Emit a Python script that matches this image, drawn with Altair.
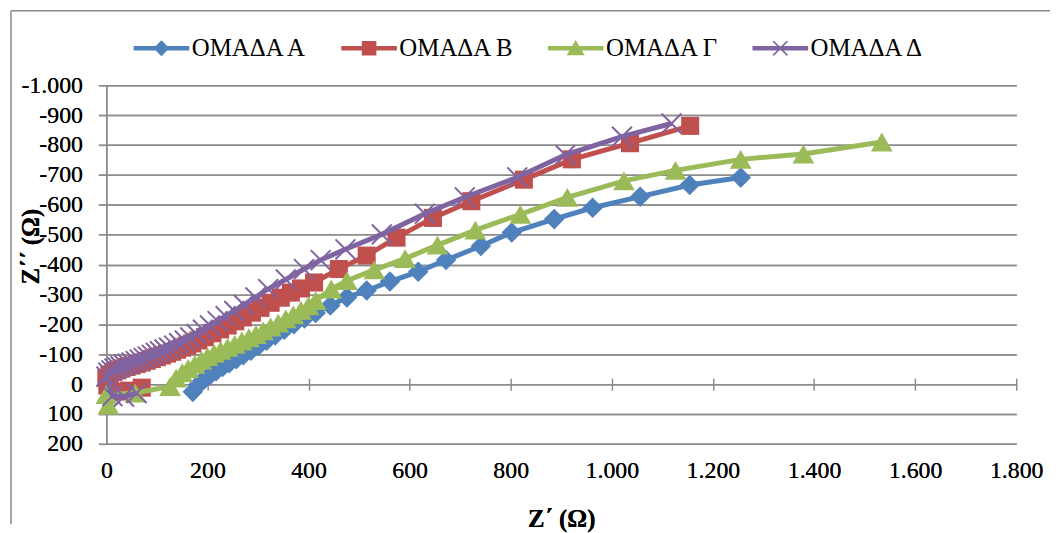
import altair as alt
import pandas as pd

FONT = "'Times New Roman', 'Liberation Serif', 'DejaVu Serif', serif"

series_names = ["ΟΜΑΔΑ Α", "ΟΜΑΔΑ Β", "ΟΜΑΔΑ Γ", "ΟΜΑΔΑ Δ"]
colors = ["#4F81BD", "#C0504D", "#9BBB59", "#8064A2"]

a_x = [171, 182, 193, 205, 217, 230, 243, 257, 271, 286, 301, 317, 334, 352, 371, 392, 414,
       443, 476, 515, 561, 617, 672, 741, 802, 886, 962, 1056, 1154, 1255]
a_y = [26, 2, -15, -30, -43, -57, -70, -83, -97, -112, -128, -145, -163, -182, -200, -220, -238,
       -263, -290, -313, -343, -376, -415, -462, -507, -552, -590, -627, -666, -691]

b_x = [70, 45, 20, 2, 0, 6, 14, 22, 30, 40, 50, 60, 70, 80, 90, 100, 110, 120, 130, 140, 150,
       160, 170, 182, 195, 210, 225, 240, 255, 270, 288, 305, 325, 345, 365, 385, 411, 460, 515,
       574, 646, 722, 826, 921, 1036, 1155]
b_y = [12, 22, 25, 5, -20, -32, -40, -46, -52, -57, -62, -67, -72, -78, -84, -90, -96, -102,
       -108, -115, -122, -129, -136, -146, -157, -170, -183, -196, -210, -223, -239, -255, -272,
       -289, -306, -320, -340, -385, -430, -490, -556, -612, -684, -752, -806, -864]

g_x = [4, 0, 57, 126, 138, 150, 162, 175, 188, 200, 213, 226, 240, 254, 268, 282, 296, 310, 325,
       340, 355, 370, 385, 400, 414, 445, 476, 530, 591, 655, 730, 819, 912, 1024, 1126, 1255,
       1379, 1534]
g_y = [70, 35, 30, 8, -20, -38, -52, -66, -80, -92, -103, -113, -123, -133, -144, -155, -166,
       -178, -191, -204, -218, -232, -247, -262, -279, -318, -346, -382, -420, -465, -515, -568,
       -625, -680, -715, -752, -770, -810]

d_x = [60, 35, 12, 0, 4, 10, 16, 22, 28, 35, 42, 50, 58, 66, 74, 82, 90, 98, 106, 115, 124, 134,
       144, 155, 166, 178, 191, 205, 220, 236, 253, 272, 295, 320, 355, 391, 424, 473, 545, 630,
       709, 813, 908, 1020, 1118]
d_y = [30, 42, 40, -25, -38, -46, -52, -56, -60, -64, -68, -72, -77, -82, -87, -92, -98, -104,
       -110, -116, -122, -129, -137, -146, -156, -168, -182, -196, -211, -227, -245, -265, -290,
       -318, -350, -385, -415, -451, -501, -570, -625, -692, -767, -828, -872]

x_ticks = [0, 200, 400, 600, 800, 1000, 1200, 1400, 1600, 1800]
y_ticks = [-1000, -900, -800, -700, -600, -500, -400, -300, -200, -100, 0, 100, 200]

# legend glyphs: a short thick line with the series marker on it (all filled, clockwise)
LINE = "M-4,-0.34H4V0.34H-4Z"
legend_paths = [
    LINE + "M0,-1.15L1.15,0L0,1.15L-1.15,0Z",
    LINE + "M-1.05,-1.05H1.05V1.05H-1.05Z",
    LINE + "M0,-1.2L1.3,1H-1.3Z",
    LINE + "M-1.1,-0.95L-0.95,-1.1L1.1,0.95L0.95,1.1Z"
         + "M0.95,-1.1L1.1,-0.95L-0.95,1.1L-1.1,0.95Z",
]

GRID = "#8C8C8C"
label_expr = "(datum.value < 0 ? '-' : '') + replace(format(abs(datum.value), ','), ',', '.')"

x_scale = alt.Scale(domain=[0, 1800], nice=False, zero=False)
y_scale = alt.Scale(domain=[-1000, 200], reverse=True, nice=False, zero=False)

x_axis_main = alt.Axis(
    values=x_ticks, labelExpr=label_expr, orient="bottom",
    labelFont=FONT, labelFontSize=24, labelColor="black", labelFlush=False,
    ticks=False, tickSize=0, domain=False, grid=False, labelPadding=15,
    title="Z΄  (Ω)", titleFont=FONT, titleFontSize=25, titleFontWeight="bold",
    titleColor="black", titlePadding=24,
)
x_axis_ticks = alt.Axis(
    values=x_ticks, orient="top", offset=-307, labels=False, domain=False,
    grid=False, ticks=True, tickSize=12, tickColor=GRID, tickWidth=1.5,
    title=None, minExtent=0,
)
y_axis_main = alt.Axis(
    values=y_ticks, labelExpr=label_expr, orient="left",
    labelFont=FONT, labelFontSize=24, labelColor="black", labelFlush=False,
    tickSize=8, tickColor=GRID, tickWidth=1.5, labelPadding=16,
    domain=True, domainColor=GRID, domainWidth=1.5,
    grid=True, gridColor=GRID, gridWidth=1.5,
    title="Z΄΄ (Ω)", titleFont=FONT, titleFontSize=25, titleFontWeight="bold",
    titleColor="black", titleX=-76, titleY=162, titleAngle=270,
    titleAlign="center", titleBaseline="middle",
)


def make_df(xs, ys):
    return pd.DataFrame({"x": xs, "y": ys, "i": list(range(len(xs)))})


specs = [
    (make_df(a_x, a_y), colors[0], "diamond", 430, True),
    (make_df(b_x, b_y), colors[1], "square", 330, True),
    (make_df(g_x, g_y), colors[2], "triangle-up", 480, True),
    (make_df(d_x, d_y), colors[3], "M-1,-1L1,1M-1,1L1,-1", 400, False),
]

layers = []
for k, (df, col, shape, size, filled) in enumerate(specs):
    xa = None
    ya = None
    if k == 0:
        xa = x_axis_main
        ya = y_axis_main
    base = alt.Chart(df).encode(
        x=alt.X("x:Q", scale=x_scale, axis=xa),
        y=alt.Y("y:Q", scale=y_scale, axis=ya),
        order=alt.Order("i:Q"),
    )
    line = base.mark_line(color=col, strokeWidth=5)
    if filled:
        pts = base.mark_point(shape=shape, size=size, filled=True, color=col, opacity=1)
    else:
        pts = base.mark_point(shape=shape, size=size, filled=False, color=col, opacity=1,
                              strokeWidth=2)
    layers.append(line)
    layers.append(pts)

# tick marks crossing the zero line
tick_layer = alt.Chart(make_df(a_x, a_y)).mark_point(opacity=0).encode(
    x=alt.X("x:Q", scale=x_scale, axis=x_axis_ticks),
    y=alt.Y("y:Q", scale=y_scale, axis=None),
)
layers.append(tick_layer)

legend = alt.Legend(
    title=None, orient="none", legendX=43, legendY=-50, direction="horizontal",
    labelFont=FONT, labelFontSize=25, labelColor="black", labelOffset=18,
    symbolSize=196, symbolStrokeWidth=0, symbolOpacity=1, columnPadding=33, padding=0,
)
legend_df = pd.DataFrame({"series": series_names})
legend_layer = alt.Chart(legend_df).mark_point(filled=True, opacity=0).encode(
    shape=alt.Shape("series:N", scale=alt.Scale(domain=series_names, range=legend_paths),
                    legend=legend, sort=series_names),
    fill=alt.Fill("series:N", scale=alt.Scale(domain=series_names, range=colors),
                  legend=legend, sort=series_names),
)
layers.append(legend_layer)

border_df = pd.DataFrame({"k": [0]})
top_border = alt.Chart(border_df).mark_rule(color="#8A8A8A", strokeWidth=1.5).encode(
    x=alt.value(-96), x2=alt.value(950), y=alt.value(-75))
left_border = alt.Chart(border_df).mark_rule(color="#8A8A8A", strokeWidth=1.5).encode(
    x=alt.value(-96), y=alt.value(-75), y2=alt.value(442))
layers = [top_border, left_border] + layers

chart = alt.layer(*layers).resolve_axis(x="independent", y="independent").properties(
    width=916, height=361,
    padding={"left": 2, "top": 0, "right": 0, "bottom": 0},
    background="white",
).configure(font=FONT).configure_view(stroke=None)

chart.save("out.html", embed_options={"renderer": "svg", "actions": False})
